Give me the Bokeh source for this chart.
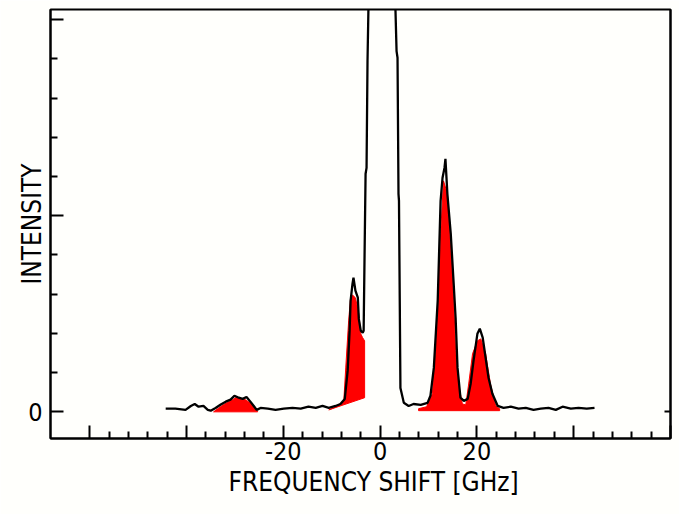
from bokeh.plotting import figure
from bokeh.models import Range1d, FixedTicker, LinearAxis, Title
from bokeh.embed import file_html
from bokeh.resources import INLINE

# ---------------- data (GHz, intensity in tick units) ----------------
freq = [-44.3, -42.3, -40.2, -39.1, -38.3, -37.5, -36.5, -35.6, -35.0,
        -34.0, -33.0, -31.9, -30.9, -30.1, -29.2, -28.4, -27.6, -26.8, -26.1, -25.5,
        -24.7, -23.2, -21.6, -19.9, -18.1, -16.4, -14.8, -13.3, -11.9, -10.6, -9.2, -8.2, -7.3,
        -6.7, -6.3, -6.1, -5.7, -5.5, -5.1, -4.6, -4.4, -4.0, -3.6, -3.4,
        -3.2, -3.0, -2.8, -2.6, -2.4, -1.5, 1.5, 3.1,
        3.4, 3.6, 3.8, 3.9, 4.2, 4.9, 5.9, 6.9, 8.4, 9.8, 10.4,
        11.1, 11.9, 12.5, 12.9, 13.3, 13.5, 13.9, 14.6, 15.2, 15.6, 16.0, 16.6, 17.3, 18.1,
        18.7, 19.3, 20.1, 20.6, 21.2, 21.8, 22.4, 23.2, 24.3, 25.5,
        27.0, 28.6, 30.1, 31.7, 33.2, 34.8, 36.3, 37.7, 39.4, 41.0, 42.7, 44.3]
intensity = [0.08, 0.08, 0.05, 0.15, 0.20, 0.13, 0.15, 0.05, 0.03,
             0.10, 0.18, 0.26, 0.31, 0.41, 0.36, 0.33, 0.38, 0.26, 0.15, 0.05,
             0.10, 0.08, 0.05, 0.08, 0.10, 0.08, 0.13, 0.10, 0.15, 0.10, 0.15, 0.20, 0.33,
             1.05, 2.07, 2.83, 3.27, 3.42, 3.09, 2.91, 2.37, 2.07, 2.02, 2.07,
             4.10, 6.07, 6.22, 8.95, 10.36, 40.0, 40.0, 10.60,
             9.20, 9.03, 5.56, 5.38, 0.61, 0.23, 0.15, 0.20, 0.18, 0.23, 0.41,
             1.12, 2.83, 5.38, 5.97, 6.22, 6.45, 5.56, 4.54, 3.27, 2.40, 1.12, 0.36, 0.28, 0.33,
             0.71, 1.30, 1.99, 2.12, 1.89, 1.38, 0.87, 0.46, 0.15, 0.10,
             0.13, 0.08, 0.10, 0.05, 0.08, 0.10, 0.05, 0.13, 0.08, 0.10, 0.08, 0.10]

# red shaded (fitted) lines
red_bump_x = [-34.4, -33.0, -31.7, -30.5, -29.6, -28.8, -27.8, -26.9, -26.1, -25.3]
red_bump_y = [0.00, 0.13, 0.23, 0.31, 0.38, 0.33, 0.31, 0.23, 0.13, 0.00]
red_left_x = [-10.6, -9.0, -7.5, -7.1, -6.5, -6.1, -5.7, -5.1, -4.4, -4.0, -3.6, -3.2, -3.2]
red_left_y = [0.05, 0.13, 0.28, 1.12, 2.32, 2.91, 2.98, 2.91, 2.50, 1.99, 1.89, 1.81, 0.36]
red_right_x = [7.95, 9.6, 10.8, 11.9, 12.5, 13.1, 13.9, 14.6, 15.2, 15.6, 16.2, 17.0, 17.7,
               18.3, 19.1, 20.1, 20.8, 21.8, 22.8, 23.9, 24.7, 24.7, 7.95]
red_right_y = [0.08, 0.13, 0.46, 2.40, 4.54, 5.89, 5.56, 4.11, 2.83, 1.56, 0.71, 0.20, 0.18,
               0.71, 1.48, 1.81, 1.86, 1.48, 0.71, 0.15, 0.08, 0.03, 0.03]

x_ticks = [-60, -40, -20, 0, 20, 40, 60]
x_tick_labels = ["", "", "-20", "0", "20", "", ""]
x_minor = [-56, -52, -48, -44, -36, -32, -28, -24, -16, -12, -8, -4,
           4, 8, 12, 16, 24, 28, 32, 36, 44, 48, 52, 56]
y_ticks = [0, 5, 10]
y_tick_labels = ["0", "", ""]
y_minor = [1, 2, 3, 4, 6, 7, 8, 9]
right_ticks = [0]
x_title = "FREQUENCY SHIFT [GHz]"
y_title = "INTENSITY"

FONT = "DejaVu Sans Condensed"
BG = "#fffffc"

p = figure(width=679, height=514,
           x_range=Range1d(-68.1, 60.0), y_range=Range1d(-0.68, 10.26),
           output_backend="svg", toolbar_location=None,
           min_border_left=50, min_border_right=9, min_border_top=9, min_border_bottom=76,
           background_fill_color=BG, border_fill_color=BG)

p.xgrid.visible = False
p.ygrid.visible = False
p.outline_line_color = "black"
p.outline_line_width = 2

p.patches(xs=[red_bump_x, red_left_x, red_right_x],
          ys=[red_bump_y, red_left_y, red_right_y],
          fill_color="#ff0000", line_color="#ff0000", line_width=1)
p.line(freq, intensity, line_color="black", line_width=2.3)

for ax in (p.xaxis[0], p.yaxis[0]):
    ax.axis_line_width = 2
    ax.axis_line_color = "black"
    ax.major_tick_line_width = 2
    ax.minor_tick_line_width = 2
    ax.major_tick_out = 0
    ax.minor_tick_out = 0
    ax.major_tick_in = 13
    ax.minor_tick_in = 7
    ax.major_label_text_font = FONT
    ax.major_label_text_font_size = "25px"
    ax.major_label_text_color = "black"
    ax.axis_label_text_font = FONT
    ax.axis_label_text_font_size = "26px"
    ax.axis_label_text_font_style = "normal"
    ax.axis_label_text_color = "black"

xa = p.xaxis[0]
xa.ticker = FixedTicker(ticks=x_ticks, minor_ticks=x_minor)
xa.major_label_overrides = {t: s for t, s in zip(x_ticks, x_tick_labels)}
xa.major_label_standoff = 3

ya = p.yaxis[0]
ya.ticker = FixedTicker(ticks=y_ticks, minor_ticks=y_minor)
ya.major_label_overrides = {t: s for t, s in zip(y_ticks, y_tick_labels)}
ya.major_label_standoff = 8
ya.axis_label = y_title
ya.axis_label_standoff = -22

ra = LinearAxis(ticker=FixedTicker(ticks=right_ticks, minor_ticks=[]),
                major_label_overrides={t: "" for t in right_ticks},
                major_label_text_font_size="0px", major_label_standoff=0,
                axis_line_width=2, major_tick_line_width=2,
                major_tick_in=6, major_tick_out=0, minor_tick_in=0, minor_tick_out=0)
p.add_layout(ra, "right")

# invisible spacer (labels not drawn) so the x title sits lower, as in the original
spacer = LinearAxis(ticker=FixedTicker(ticks=right_ticks, minor_ticks=[]),
                    major_label_text_font_size="10px", major_label_text_color=None,
                    major_label_standoff=2,
                    axis_line_color=None, major_tick_line_color=None,
                    minor_tick_line_color=None, major_tick_in=0, major_tick_out=0,
                    minor_tick_in=0, minor_tick_out=0)
p.add_layout(spacer, "below")

p.add_layout(Title(text=x_title, align="left", offset=178, standoff=4,
                   text_font=FONT, text_font_size="26px", text_font_style="normal",
                   text_color="black"), "below")

open("out.html", "w").write(file_html(p, INLINE))
